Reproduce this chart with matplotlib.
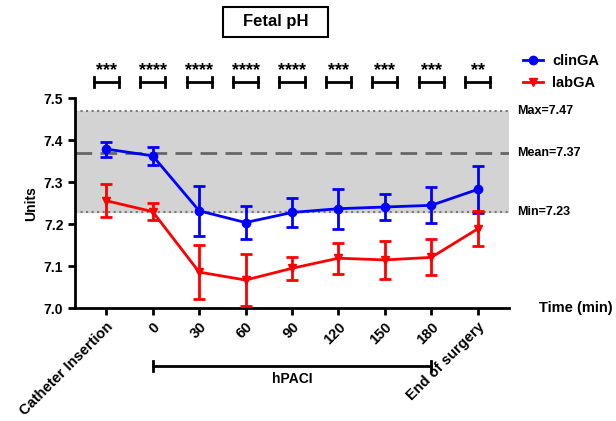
import matplotlib
matplotlib.use('Agg')
import matplotlib.pyplot as plt
from matplotlib.lines import Line2D
from matplotlib.patches import Rectangle

plt.rcParams['font.family'] = ['Liberation Sans', 'DejaVu Sans']
plt.rcParams['font.weight'] = 'bold'

TIME_LABELS = ['Catheter Insertion', '0', '30', '60', '90', '120', '150', '180', 'End of surgery']
CLIN_MEAN = [7.379, 7.363, 7.232, 7.204, 7.228, 7.237, 7.241, 7.245, 7.283]
CLIN_ERR = [0.018, 0.022, 0.060, 0.040, 0.035, 0.048, 0.030, 0.043, 0.056]
LAB_MEAN = [7.256, 7.230, 7.086, 7.067, 7.095, 7.119, 7.115, 7.121, 7.189]
LAB_ERR = [0.039, 0.020, 0.065, 0.063, 0.028, 0.037, 0.045, 0.043, 0.042]
STARS = ['***', '****', '****', '****', '****', '***', '***', '***', '**']
REF_MIN, REF_MEAN, REF_MAX = 7.23, 7.37, 7.47


def main():
    fig = plt.figure(figsize=(6.16, 4.21), dpi=100)
    ax = fig.add_axes([0.122, 0.268, 0.704, 0.4985])
    x = list(range(len(TIME_LABELS)))

    # reference band
    ax.axhspan(REF_MIN, REF_MAX, color='#d3d3d3', zorder=0)
    ax.axhline(REF_MAX, color='#777777', linestyle=':', lw=1.5, zorder=1)
    ax.axhline(REF_MIN, color='#777777', linestyle=':', lw=1.5, zorder=1)
    ax.axhline(REF_MEAN, color='#666666', linestyle=(0, (6, 3)), lw=2, zorder=1)

    ax.errorbar(x, CLIN_MEAN, yerr=CLIN_ERR, color='blue', marker='o', ms=6,
                lw=2, elinewidth=2, capsize=4, capthick=2, zorder=3)
    ax.errorbar(x, LAB_MEAN, yerr=LAB_ERR, color='red', marker='v', ms=6,
                lw=2, elinewidth=2, capsize=4, capthick=2, zorder=3)

    ax.set_xlim(-0.67, 8.67)
    ax.set_ylim(7.0, 7.5)
    ax.set_yticks([7.0, 7.1, 7.2, 7.3, 7.4, 7.5])
    ax.set_yticklabels(['7.0', '7.1', '7.2', '7.3', '7.4', '7.5'], fontsize=10, fontweight='bold')
    ax.set_xticks(x)
    ax.set_xticklabels(TIME_LABELS, rotation=45, ha='right', rotation_mode='anchor',
                       fontsize=10.5, fontweight='bold')
    ax.tick_params(width=2, length=5, direction='out')
    for s in ['top', 'right']:
        ax.spines[s].set_visible(False)
    for s in ['left', 'bottom']:
        ax.spines[s].set_linewidth(2)

    ax.set_ylabel('Units', fontsize=10, fontweight='bold')

    # reference labels
    for val, txt in [(REF_MAX, 'Max=7.47'), (REF_MEAN, 'Mean=7.37'), (REF_MIN, 'Min=7.23')]:
        ax.text(8.85, val, txt, fontsize=9, fontweight='bold', va='center', ha='left',
                clip_on=False)
    ax.text(9.32, 7.0, 'Time (min)', fontsize=10.5, fontweight='bold', va='center', ha='left')

    # significance brackets
    for xi, st in zip(x, STARS):
        ax.plot([xi - 0.27, xi + 0.27], [7.539, 7.539], color='black', lw=2, clip_on=False)
        ax.plot([xi - 0.27, xi - 0.27], [7.527, 7.551], color='black', lw=2, clip_on=False)
        ax.plot([xi + 0.27, xi + 0.27], [7.527, 7.551], color='black', lw=2, clip_on=False)
        ax.text(xi, 7.545, st, fontsize=13, fontweight='bold', ha='center', va='bottom',
                clip_on=False)

    # hPACI bracket
    yb = 6.863
    ax.plot([1, 7], [yb, yb], color='black', lw=2, clip_on=False)
    ax.plot([1, 1], [yb - 0.012, yb + 0.012], color='black', lw=2, clip_on=False)
    ax.plot([7, 7], [yb - 0.012, yb + 0.012], color='black', lw=2, clip_on=False)
    ax.text(4, yb - 0.015, 'hPACI', fontsize=10, fontweight='bold', ha='center', va='top')

    handles = [Line2D([], [], color='blue', marker='o', ms=6, lw=2),
               Line2D([], [], color='red', marker='v', ms=6, lw=2)]
    fig.legend(handles, ['clinGA', 'labGA'], loc='center left',
               bbox_to_anchor=(0.849, 0.829), frameon=False,
               prop={'size': 10.5, 'weight': 'bold'}, handlelength=1.4,
               handletextpad=0.6, labelspacing=0.5, borderaxespad=0, borderpad=0)

    fig.add_artist(Rectangle((0.362, 0.912), 0.170, 0.0713, transform=fig.transFigure,
                             facecolor='white', edgecolor='black', lw=1.5))
    fig.text(0.447, 0.948, 'Fetal pH', fontsize=12, fontweight='bold',
             ha='center', va='center')

    fig.savefig('out.png', dpi=100)


if __name__ == "__main__":
    main()
